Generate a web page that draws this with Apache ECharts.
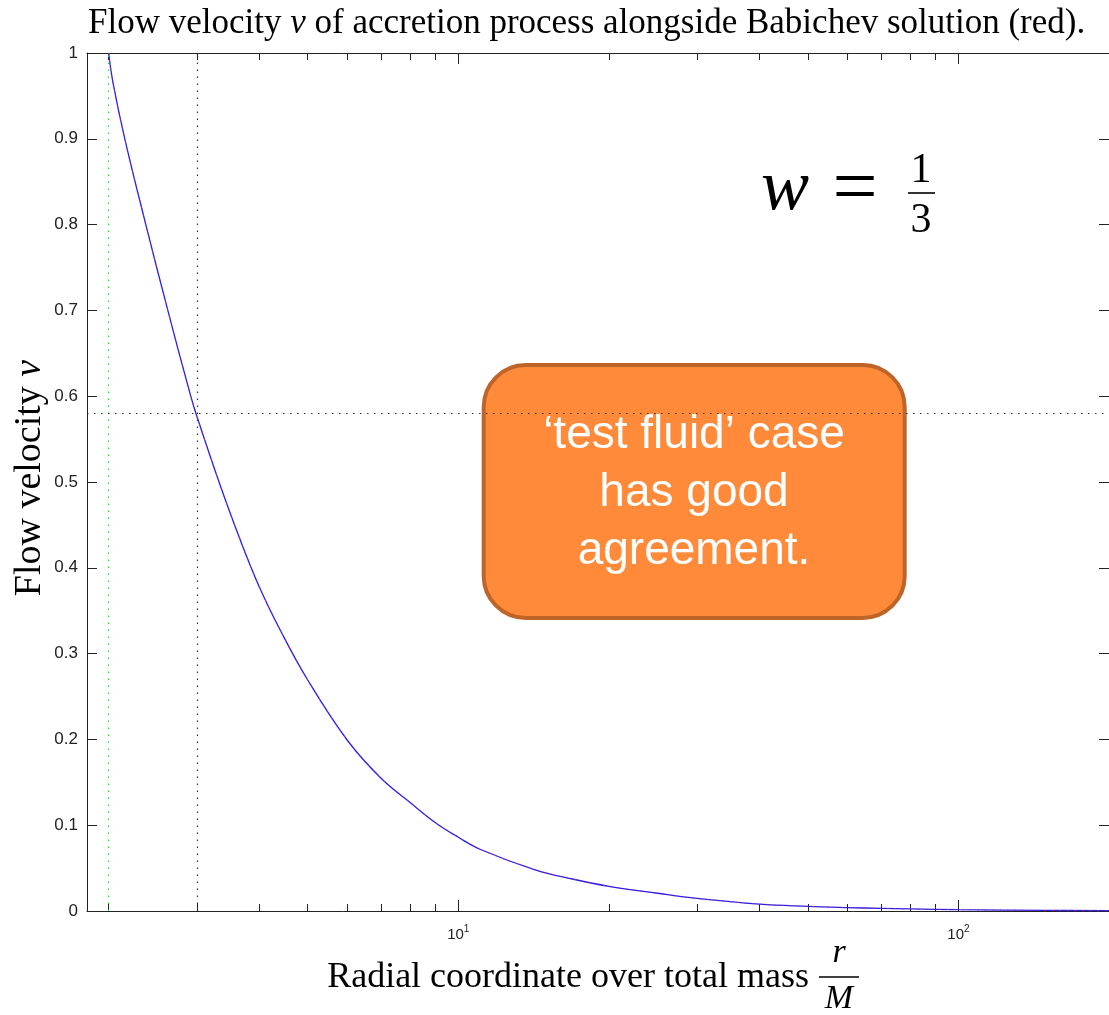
<!DOCTYPE html>
<html>
<head>
<meta charset="utf-8">
<script src="https://cdn.jsdelivr.net/npm/echarts@6/dist/echarts.min.js"></script>
<style>
html,body{margin:0;padding:0;background:#fff;}
#chart{width:1109px;height:1015px;}
</style>
</head>
<body>
<div id="chart"></div>
<script>
// ---- data ----
const rValues = [2, 2.04, 2.154, 2.373, 2.626, 2.918, 3, 3.324, 3.664, 4, 4.405, 5, 6, 7, 8, 9, 10, 11.05, 14.2, 17, 20, 25, 30, 40, 50, 60, 70, 80, 100, 150, 200];
const vValues = [1, 0.9655, 0.9, 0.8, 0.7, 0.6, 0.577, 0.5, 0.4326, 0.378, 0.3275, 0.2692, 0.199, 0.155, 0.1267, 0.1029, 0.086, 0.072, 0.0483, 0.037, 0.0288, 0.0207, 0.0147, 0.008, 0.0054, 0.004, 0.0031, 0.0024, 0.0016, 0.0007, 0.0004];
const xMajorTicks = [10, 100];
const xMinorTicks = [2, 3, 4, 5, 6, 7, 8, 9, 20, 30, 40, 50, 60, 70, 80, 90];
const horizonR = 2;       // green dotted line
const criticalR = 3;      // black dotted vertical
const criticalV = 0.577;  // black dotted horizontal
const xMin = 1.81, xMax = 200;

const titleRich = 'Flow velocity {i|v} of accretion process alongside Babichev solution (red).';
const xName = 'Radial coordinate over total mass';
const yNameRich = 'Flow velocity {i|v}';
const boxText = ['\u2018test fluid\u2019 case', 'has good', 'agreement.'];

const curvePts = rValues.map((r, i) => [r, vValues[i]]);

const axisColor = '#222';
const serif = 'Liberation Serif';
const sans = 'Liberation Sans';

function xAxisDef(pos, ticks, len, withLabel, withLine) {
  return {
    type: 'log', logBase: 10, min: xMin, max: xMax, position: pos,
    axisLine: {show: withLine, onZero: false, lineStyle: {color: axisColor, width: 1}},
    axisTick: {show: true, inside: true, length: len, customValues: ticks, lineStyle: {color: axisColor, width: 1}},
    axisLabel: withLabel ? {
      show: true, customValues: xMajorTicks, margin: 13,
      formatter: v => '{b|10}{s|' + Math.round(Math.log10(v)) + '}',
      rich: {
        b: {fontFamily: sans, fontSize: 15, color: '#222', verticalAlign: 'bottom', lineHeight: 18},
        s: {fontFamily: sans, fontSize: 10, color: '#222', verticalAlign: 'top', lineHeight: 10}
      }
    } : {show: false},
    splitLine: {show: false}, minorTick: {show: false}, minorSplitLine: {show: false}
  };
}
function yAxisDef(pos, withLabel) {
  return {
    type: 'value', min: 0, max: 1, interval: 0.1, position: pos,
    axisLine: {show: true, onZero: false, lineStyle: {color: axisColor, width: 1}},
    axisTick: {show: true, inside: true, length: 10, lineStyle: {color: axisColor}},
    axisLabel: withLabel ? {show: true, margin: 9, fontFamily: sans, fontSize: 17, color: '#222',
      formatter: v => String(Math.round(v * 10) / 10)} : {show: false},
    splitLine: {show: false}
  };
}

const chart = echarts.init(document.getElementById('chart'), null, {renderer: 'canvas'});
const option = {
  backgroundColor: '#fff',
  animation: false,
  grid: {left: 87, right: 0, top: 53, bottom: 104, containLabel: false},
  xAxis: [
    xAxisDef('bottom', xMajorTicks, 11, true, true),
    xAxisDef('bottom', xMinorTicks, 7, false, false),
    xAxisDef('top', xMajorTicks, 11, false, true),
    xAxisDef('top', xMinorTicks, 7, false, false)
  ],
  yAxis: [yAxisDef('left', true), yAxisDef('right', false)],
  series: [
    {
      type: 'line', xAxisIndex: 0, yAxisIndex: 0, data: [], silent: true,
      markLine: {
        silent: true, symbol: 'none', label: {show: false},
        data: [
          {xAxis: horizonR, lineStyle: {color: '#00ee00', width: 1.2, type: [1.5, 5.5]}},
          {xAxis: criticalR, lineStyle: {color: '#333', width: 1.2, type: [1.5, 5.5]}},
          {yAxis: criticalV, lineStyle: {color: '#333', width: 1.2, type: [1.5, 5.5]}}
        ]
      }
    },
    {
      name: 'numerical', type: 'line', xAxisIndex: 0, yAxisIndex: 0, data: curvePts,
      showSymbol: false, smooth: 0.4,
      lineStyle: {color: '#2020ff', width: 1.3}
    },
    {
      name: 'Babichev', type: 'line', xAxisIndex: 0, yAxisIndex: 0, data: curvePts,
      showSymbol: false, smooth: 0.4,
      lineStyle: {color: '#ff2020', width: 1, type: [1.5, 6]}
    }
  ],
  graphic: {elements: [
    {type: 'text', x: 88, y: 24, style: {text: titleRich, font: '35px ' + serif, fill: '#000',
      textAlign: 'left', textVerticalAlign: 'middle',
      rich: {i: {font: 'italic 35px ' + serif, fill: '#000'}}}},
    {type: 'text', x: 809, y: 978, style: {text: xName, font: '36px ' + serif, fill: '#000',
      textAlign: 'right', textVerticalAlign: 'middle'}},
    {type: 'text', x: 839, y: 953, style: {text: 'r', font: 'italic 34px ' + serif, fill: '#000',
      textAlign: 'center', textVerticalAlign: 'middle'}},
    {type: 'line', shape: {x1: 819, y1: 977, x2: 859, y2: 977}, style: {stroke: '#000', lineWidth: 1.5}},
    {type: 'text', x: 839, y: 999, style: {text: 'M', font: 'italic 34px ' + serif, fill: '#000',
      textAlign: 'center', textVerticalAlign: 'middle'}},
    {type: 'text', x: 30, y: 478, rotation: Math.PI / 2, style: {text: yNameRich, font: '38px ' + serif, fill: '#000',
      textAlign: 'center', textVerticalAlign: 'middle',
      rich: {i: {font: 'italic 38px ' + serif, fill: '#000'}}}},
    {type: 'text', x: 785, y: 190, style: {text: 'w', font: 'italic 72px ' + serif, fill: '#000',
      textAlign: 'center', textVerticalAlign: 'middle'}},
    {type: 'text', x: 855, y: 192, style: {text: '=', font: '80px ' + serif, fill: '#000',
      textAlign: 'center', textVerticalAlign: 'middle'}},
    {type: 'text', x: 921, y: 171, style: {text: '1', font: '42px ' + serif, fill: '#000',
      textAlign: 'center', textVerticalAlign: 'middle'}},
    {type: 'line', shape: {x1: 908, y1: 193, x2: 935, y2: 193}, style: {stroke: '#000', lineWidth: 1.6}},
    {type: 'text', x: 921, y: 221, style: {text: '3', font: '42px ' + serif, fill: '#000',
      textAlign: 'center', textVerticalAlign: 'middle'}},
    {type: 'rect', shape: {x: 483.7, y: 365, width: 421, height: 253, r: 42},
      style: {fill: '#FF8A3A', stroke: '#BE6428', lineWidth: 4}},
    {type: 'text', x: 694, y: 493, style: {text: boxText.join('\n'), font: '46px ' + sans, fill: '#fff',
      textAlign: 'center', textVerticalAlign: 'middle', lineHeight: 58}}
  ]}
};
chart.setOption(option);
</script>
</body>
</html>
